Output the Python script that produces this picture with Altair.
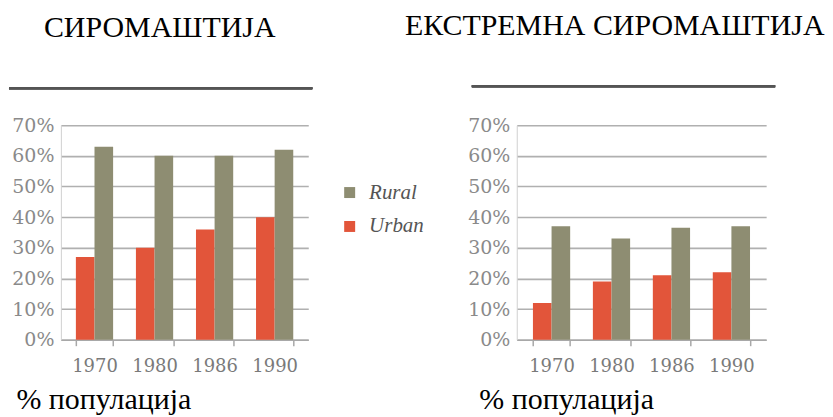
import altair as alt
import pandas as pd

years = ["1970", "1980", "1986", "1990"]
series = ["Urban", "Rural"]
poverty_urban = [27, 30, 36, 40]
poverty_rural = [63, 60, 60, 62]
extreme_urban = [12, 19, 21, 22]
extreme_rural = [37, 33, 36.5, 37]
y_ticks = [0, 10, 20, 30, 40, 50, 60, 70]

title_left = "СИРОМАШТИЈА"
title_right = "ЕКСТРЕМНА СИРОМАШТИЈА"
x_title = "% популација"

URBAN = "#e2553a"
RURAL = "#8e8d72"


def frame(urban, rural):
    rows = []
    for i, yr in enumerate(years):
        rows.append({"year": yr, "area": "Urban", "value": urban[i]})
        rows.append({"year": yr, "area": "Rural", "value": rural[i]})
    return pd.DataFrame(rows)


def panel(df, title, width, pad_outer, title_dx, xtitle_x, rule_x, rule_x2, rule_y, legend):
    color_legend = None
    if legend:
        color_legend = alt.Legend(
            title=None, orient="none", legendX=-178, legendY=57,
            symbolType="square", symbolSize=121, symbolStrokeWidth=0,
            labelFont="Liberation Serif", labelFontStyle="italic", labelFontSize=21,
            labelColor="#555555", labelOffset=9, rowPadding=12,
        )
    bars = alt.Chart(df).mark_bar().encode(
        x=alt.X("year:N", sort=years,
                scale=alt.Scale(paddingInner=0.38, paddingOuter=pad_outer),
                axis=alt.Axis(
                    title=x_title, titleFont="Liberation Serif", titleFontSize=30,
                    titleFontWeight="normal", titleColor="#000000",
                    titleAnchor="start", titleAlign="left", titleBaseline="alphabetic",
                    titleX=xtitle_x, titleY=69,
                    labelAngle=0, labelFont="DejaVu Serif", labelFontSize=18,
                    labelColor="#7a7a7a", labelPadding=12,
                    domainColor="#a8a8a8", domainWidth=1.5,
                    tickBand="extent", tickSize=6, tickColor="#a8a8a8", tickWidth=1.5,
                )),
        xOffset=alt.XOffset("area:N", sort=series, scale=alt.Scale(paddingInner=0, paddingOuter=0)),
        y=alt.Y("value:Q", scale=alt.Scale(domain=[0, 70], nice=False),
                axis=alt.Axis(
                    title=None, values=y_ticks, labelExpr="datum.value + '%'",
                    labelFont="DejaVu Serif", labelFontSize=19, labelColor="#8a8a8a",
                    labelPadding=7, ticks=False, domain=True, domainColor="#d0d0d0",
                    grid=True, gridColor="#b0b0b0", gridWidth=1.6,
                )),
        color=alt.Color("area:N", scale=alt.Scale(domain=["Rural", "Urban"], range=[RURAL, URBAN]),
                        legend=color_legend),
    )
    rule = alt.Chart(df).mark_rule(color="#555555", strokeWidth=2).encode(
        x=alt.value(rule_x), x2=alt.value(rule_x2), y=alt.value(rule_y)
    )
    return alt.layer(bars, rule).properties(
        width=width, height=215,
        title=alt.TitleParams(
            text=title, font="Liberation Serif", fontSize=30, fontWeight="normal",
            color="#000000", anchor="start", frame="group", dx=title_dx, dy=-40,
        ),
    )


left = panel(frame(poverty_urban, poverty_rural), title_left, 248, 0.25, -17, -45, -52, 252, -37, False)
right = panel(frame(extreme_urban, extreme_rural), title_right, 250, 0.27, -112, -38, -45, 259, -39, True)

chart = alt.hconcat(left, right, spacing=26).resolve_scale(color="independent").configure_view(
    stroke=None
).properties(
    padding={"left": 0, "top": 3, "right": 0, "bottom": 0}, background="white"
)

chart.save("out.html", embed_options={"renderer": "svg", "actions": False})
